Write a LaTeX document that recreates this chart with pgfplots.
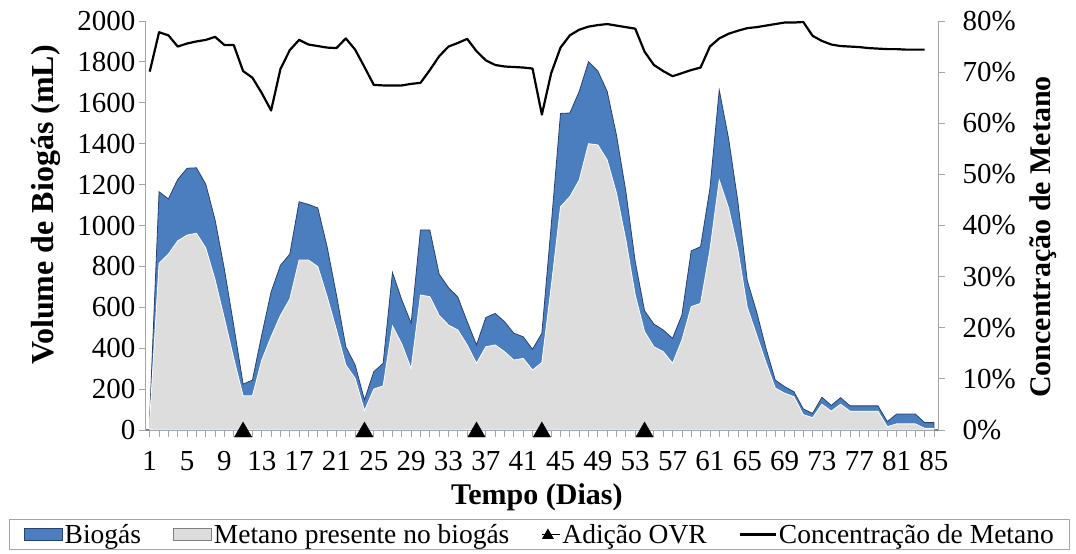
\documentclass[border=0pt]{standalone}
\usepackage{fontspec}
\setmainfont{Liberation Serif}
\usepackage{pgfplots}
\usepackage{pgfplotstable}
\pgfplotsset{compat=1.18}
\definecolor{bioblue}{RGB}{74,126,190}
\definecolor{bioedge}{RGB}{38,66,110}
\definecolor{metgray}{RGB}{221,221,221}
\definecolor{axgray}{RGB}{165,165,165}

\pgfplotstableread{
day bio met
1 70 50
2 1165 815
3 1130 860
4 1225 925
5 1280 953
6 1282 962
7 1202 890
8 1027 735
9 785 545
10 510 350
11 224 167
12 244 167
13 465 342
14 675 456
15 805 560
16 860 640
17 1116 831
18 1103 831
19 1086 799
20 896 652
21 660 489
22 407 318
23 318 252
24 147 95
25 285 200
26 326 216
27 770 509
28 636 420
29 522 300
30 978 660
31 978 652
32 762 560
33 696 513
34 650 489
35 530 416
36 416 326
37 550 407
38 570 416
39 530 383
40 473 342
41 456 350
42 395 293
43 473 330
44 1000 700
45 1548 1092
46 1550 1141
47 1655 1222
48 1801 1400
49 1755 1394
50 1655 1320
51 1440 1157
52 1165 929
53 823 660
54 583 481
55 518 407
56 489 383
57 448 326
58 562 440
59 876 603
60 896 619
61 1180 880
62 1662 1222
63 1425 1085
64 1115 880
65 730 600
66 578 465
67 400 330
68 244 205
69 212 180
70 187 163
71 103 75
72 81 60
73 160 126
74 120 92
75 158 126
76 118 92
77 118 92
78 118 92
79 118 92
80 41 16
81 78 30
82 78 30
83 78 30
84 36 8
85 36 8
}\biotable

\pgfplotstableread{
day conc
1 70.1
2 77.8
3 77.2
4 75.0
5 75.6
6 76.0
7 76.3
8 76.9
9 75.3
10 75.3
11 70.2
12 68.9
13 65.9
14 62.5
15 70.6
16 74.3
17 76.3
18 75.4
19 75.1
20 74.8
21 74.7
22 76.6
23 74.4
24 71.0
25 67.5
26 67.4
27 67.4
28 67.4
29 67.7
30 67.9
31 70.4
32 73.1
33 75.0
34 75.7
35 76.5
36 74.1
37 72.3
38 71.4
39 71.1
40 71.0
41 70.9
42 70.7
43 61.7
44 69.8
45 74.8
46 77.2
47 78.3
48 78.9
49 79.2
50 79.4
51 79.1
52 78.8
53 78.5
54 74.0
55 71.4
56 70.2
57 69.2
58 69.8
59 70.4
60 70.9
61 75.0
62 76.6
63 77.5
64 78.1
65 78.6
66 78.8
67 79.1
68 79.4
69 79.7
70 79.7
71 79.8
72 77.1
73 76.1
74 75.4
75 75.1
76 75.0
77 74.9
78 74.7
79 74.6
80 74.5
81 74.5
82 74.4
83 74.4
84 74.4
}\conctable

\pgfplotsset{
  common/.style={
    scale only axis, width=792pt, height=409pt,
    xmin=0.6, xmax=85.43,
    axis line style={-, draw=axgray, line width=1pt},
    tick align=outside, major tick length=7pt, minor tick length=7pt,
    tick style={axgray, line width=0.8pt},
    tick label style={font=\fontsize{29}{29}\selectfont},
    label style={font=\bfseries\fontsize{30}{31}\selectfont},
    /pgf/number format/assume math mode=true,
    /pgf/number format/1000 sep={},
    clip=false,
  }
}

\begin{document}
\begin{tikzpicture}
\begin{axis}[common,
  ymin=0, ymax=2000,
  axis x line*=bottom, axis y line*=left,
  x axis line style={draw=gray, line width=2.5pt},
  xtick={1,5,...,85}, minor x tick num=3,
  ytick={0,200,...,2000},
  xticklabel style={yshift=-11pt},
  xlabel={Tempo (Dias)}, ylabel={Volume de Biogás (mL)},
  xlabel style={at={(axis description cs:0.4935,-0.165)}, anchor=center},
  ylabel style={at={(axis description cs:-0.126,0.55)}, anchor=center,
    font=\bfseries\fontsize{32}{33}\selectfont},
  legend columns=4,
  legend cell align=left,
  legend style={at={(axis description cs:0.4973,-0.2555)}, anchor=center,
    draw=axgray, line width=1pt, font=\fontsize{27.5}{27.5}\selectfont,
    inner xsep=14pt, inner ysep=3pt,
    /tikz/every even column/.append style={column sep=30pt}},
]
\addplot[fill=bioblue, draw=bioedge, line width=0.8pt,
  legend image code/.code={\draw[fill=bioblue, draw=bioedge, line width=0.8pt] (0pt,-6pt) rectangle (38pt,6pt);}]
  table[x=day, y=bio]{\biotable} \closedcycle;
\addlegendentry{Biogás}
\addplot[fill=metgray, draw=white, line width=0.8pt,
  legend image code/.code={\draw[fill=metgray, draw=gray, line width=0.8pt] (0pt,-6pt) rectangle (38pt,6pt);}]
  table[x=day, y=met]{\biotable} \closedcycle;
\addlegendentry{Metano presente no biogás}
\addplot[only marks, mark=triangle*, mark size=10pt, black,
  mark options={yshift=-2pt},
  legend image code/.code={\draw[black, fill=black, mark=triangle*, mark size=6pt, only marks] plot coordinates {(6pt,1pt)};
    \path (0pt,0pt) -- (18pt,0pt);}]
  coordinates {(11,0) (24,0) (36,0) (43,0) (54,0)};
\addlegendentry{Adição OVR}
\addlegendimage{black, line width=2.2pt,
  legend image code/.code={\draw[black, line width=2.2pt] (0pt,0pt) -- (36pt,0pt);}}
\addlegendentry{Concentração de Metano}
\end{axis}
\begin{axis}[common,
  ymin=0, ymax=80,
  axis x line=none, axis y line*=right,
  ytick={0,10,...,80},
  yticklabel={\pgfmathprintnumber{\tick}\%},
  yticklabel style={xshift=14pt},
  ylabel={Concentração de Metano},
  ylabel style={at={(axis description cs:1.1326,0.472)}, anchor=center},
]
\addplot[black, line width=2.2pt, line join=round, mark=none]
  table[x=day, y=conc]{\conctable};
\end{axis}
\pgfresetboundingbox
\path[use as bounding box] (-146pt,-124pt) rectangle (930pt,430pt);
\end{tikzpicture}
\end{document}
